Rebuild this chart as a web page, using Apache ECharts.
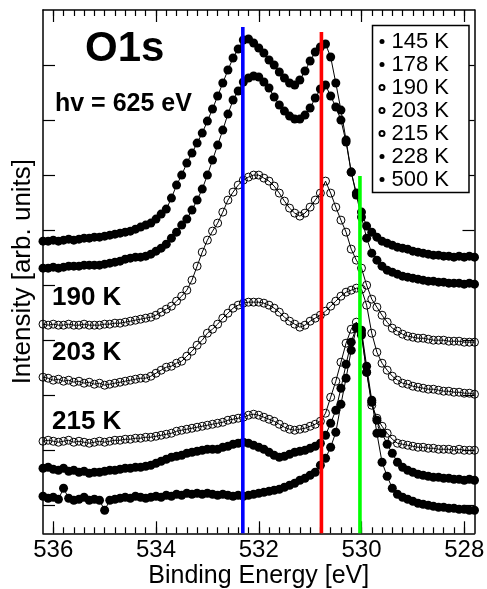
<!DOCTYPE html>
<html>
<head>
<meta charset="utf-8">
<script src="https://cdn.jsdelivr.net/npm/echarts@6/dist/echarts.min.js"></script>
<style>
html,body{margin:0;padding:0;background:#fff;}
#chart{width:487px;height:589px;}
</style>
</head>
<body>
<div id="chart"></div>
<script>
// Binding energy grid (eV)
const energy = [
536.2,536.1,536.0,535.9,535.8,535.7,535.6,535.5,535.4,535.3,
535.2,535.1,535.0,534.9,534.8,534.7,534.6,534.5,534.4,534.3,
534.2,534.1,534.0,533.9,533.8,533.7,533.6,533.5,533.4,533.3,
533.2,533.1,533.0,532.9,532.8,532.7,532.6,532.5,532.4,532.3,
532.2,532.1,532.0,531.9,531.8,531.7,531.6,531.5,531.4,531.3,
531.2,531.1,531.0,530.9,530.8,530.7,530.6,530.5,530.4,530.3,
530.2,530.1,530.0,529.9,529.8,529.7,529.6,529.5,529.4,529.3,
529.2,529.1,529.0,528.9,528.8,528.7,528.6,528.5,528.4,528.3,
528.2,528.1,528.0,527.9,527.8];

// Intensities (arb. units, curves offset vertically)
const i145 = [
319,319,320,319,320,321,320,321,322,322,
323,323,324,325,326,327,328,329,331,333,
335,337,341,346,351,362,375,385,397,407,
417,427,439,451,464,477,490,502,511,520,
521,517,512,507,500,495,488,482,477,475,
480,489,499,508,513,516,503,477,450,420,
388,367,348,334,328,323,319,317,315,313,
312,311,309,308,307,306,305,305,304,304,
303,304,303,304,303];
const i178 = [
292,292,293,292,293,294,294,294,295,295,
295,295,296,297,298,299,301,302,303,303,
304,306,309,312,316,322,328,335,341,350,
360,371,385,400,415,430,446,460,469,478,
482,484,483,478,472,463,455,449,444,441,
441,445,452,462,471,475,464,453,440,418,
388,365,343,322,307,300,294,290,288,286,
284,283,282,281,280,279,279,278,278,277,
277,277,276,277,276];
const i190 = [
236,235,236,235,235,236,235,235,236,235,
235,235,236,236,237,237,238,239,240,241,
242,243,245,248,251,254,259,264,270,280,
294,308,320,329,337,348,360,368,375,380,
383,385,385,382,379,374,367,359,352,347,
344,347,353,360,367,379,367,353,340,328,
311,300,292,275,261,253,245,238,232,229,
226,224,223,222,222,221,220,220,220,219,
219,219,218,218,218];
const i203 = [
183,182,180,181,179,180,178,179,177,178,
176,177,175,176,177,178,179,180,181,182,
182,184,187,190,193,194,197,199,204,209,
215,220,227,231,236,242,247,252,255,257,
258,258,258,257,255,252,248,243,239,236,
233,235,239,242,245,249,254,259,264,268,
270,272,271,255,227,208,197,190,184,180,
177,176,174,173,172,171,171,170,169,169,
168,168,167,167,166];
const i215 = [
119,120,119,118,119,120,118,119,118,117,
118,119,118,119,120,120,121,121,122,122,
123,123,124,125,126,127,129,130,131,132,
133,134,135,136,137,138,140,141,142,143,
145,146,145,143,141,139,136,133,131,130,
131,132,134,136,139,147,163,179,198,217,
231,238,227,188,155,142,134,127,121,117,
116,115,114,113,113,112,112,111,111,111,
110,111,110,110,110];
const i228 = [
92,93,91,90,92,89,90,88,89,87,
88,88,89,90,90,91,92,92,93,93,
94,95,97,99,101,103,104,105,107,108,
109,110,111,111,111,113,114,116,117,118,
117,115,113,111,108,105,103,104,106,108,
109,110,112,114,117,125,137,150,172,196,
218,233,225,188,158,140,127,116,107,98,
93,90,88,86,85,84,83,83,82,82,
81,81,80,81,80];
const i500 = [
64,62,63,61,72,62,60,61,63,60,
61,60,50,60,61,62,63,62,64,63,
62,63,64,63,65,64,66,65,67,66,
67,66,67,66,65,66,65,64,65,64,
65,66,67,68,69,70,71,73,75,77,
80,82,85,88,95,102,113,128,156,182,
210,232,230,194,160,127,98,84,72,66,
63,61,59,57,56,55,54,53,53,52,
52,51,51,50,50];

const seriesNames = ['145 K','178 K','190 K','203 K','215 K','228 K','500 K'];
const seriesValues = [i145, i178, i190, i203, i215, i228, i500];
const hollow = [false, false, true, true, true, false, false];

// Reference lines (eV) and their upper ends
const refLineE = [532.31, 530.78, 530.03];
const refLineTop = [533, 528, 384];
const refLineColors = ['#0000ff', '#ff0000', '#00ff00'];

// Axis range and ticks
const xMin = 527.8, xMax = 536.2;
const yMin = 27, yMax = 550;
const xMajorTicks = [528, 530, 532, 534, 536];
const yTicks = [55, 110, 165, 220, 275, 330, 385, 440, 495];
const xMinorTicks = [];
for (let k = 0; k <= 40; k++) xMinorTicks.push(+(528 + 0.2 * k).toFixed(1));

// Annotation texts
const annotations = [
  {text: 'O1s', x: 85, y: 49, size: 42},
  {text: 'hv = 625 eV', x: 55, y: 104, size: 25},
  {text: '190 K', x: 52, y: 298, size: 26},
  {text: '203 K', x: 52, y: 353, size: 26},
  {text: '215 K', x: 52, y: 422, size: 26}
];

const FONT = '"Liberation Sans", Arial, Helvetica, sans-serif';
const black = '#000';

const xBase = {type: 'value', min: xMin, max: xMax, inverse: true, splitLine: {show: false}, gridIndex: 0};
const yBase = {type: 'value', min: yMin, max: yMax, splitLine: {show: false}, gridIndex: 0};

const series = seriesValues.map((vals, si) => ({
  name: seriesNames[si],
  type: 'line',
  xAxisIndex: 0, yAxisIndex: 0,
  data: energy.map((e, i) => [e, vals[i]]),
  symbol: 'circle',
  symbolSize: hollow[si] ? 8 : 9,
  showSymbol: true,
  showAllSymbol: true,
  lineStyle: {color: black, width: 1},
  itemStyle: hollow[si]
    ? {color: 'rgba(255,255,255,0)', borderColor: black, borderWidth: 1}
    : {color: black, borderColor: black, borderWidth: 0},
  emphasis: {disabled: true},
  silent: true,
  z: 2
}));

refLineE.forEach((e, k) => {
  series.push({
    type: 'line',
    xAxisIndex: 0, yAxisIndex: 0,
    data: [[e, yMin], [e, refLineTop[k]]],
    symbol: 'none',
    lineStyle: {color: refLineColors[k], width: 3.6},
    silent: true,
    z: 10
  });
});

const chart = echarts.init(document.getElementById('chart'), null, {renderer: 'canvas'});
chart.setOption({
  animation: false,
  backgroundColor: '#fff',
  grid: {left: 43, right: 12.5, top: 10, bottom: 55.7, containLabel: false, outerBoundsMode: 'none'},
  xAxis: [
    Object.assign({}, xBase, {
      position: 'bottom',
      axisLine: {show: true, onZero: false, lineStyle: {color: black, width: 1.5}},
      axisTick: {show: true, inside: true, length: 12, customValues: xMajorTicks, lineStyle: {color: black, width: 1.2}},
      axisLabel: {show: true, customValues: xMajorTicks, color: black, fontSize: 24, fontFamily: FONT, margin: 5},
      name: 'Binding Energy [eV]', nameLocation: 'middle', nameGap: 30, nameMoveOverlap: false,
      nameTextStyle: {color: black, fontSize: 25, fontFamily: FONT}
    }),
    Object.assign({}, xBase, {
      position: 'bottom',
      axisLine: {show: false, onZero: false},
      axisTick: {show: true, inside: true, length: 6, customValues: xMinorTicks, lineStyle: {color: black, width: 1.2}},
      axisLabel: {show: false}
    }),
    Object.assign({}, xBase, {
      position: 'top',
      axisLine: {show: true, onZero: false, lineStyle: {color: black, width: 1.5}},
      axisTick: {show: true, inside: true, length: 12, customValues: xMajorTicks, lineStyle: {color: black, width: 1.2}},
      axisLabel: {show: false}
    }),
    Object.assign({}, xBase, {
      position: 'top',
      axisLine: {show: false, onZero: false},
      axisTick: {show: true, inside: true, length: 6, customValues: xMinorTicks, lineStyle: {color: black, width: 1.2}},
      axisLabel: {show: false}
    })
  ],
  yAxis: [
    Object.assign({}, yBase, {
      position: 'left',
      axisLine: {show: true, onZero: false, lineStyle: {color: black, width: 1.5}},
      axisTick: {show: true, inside: true, length: 12, customValues: yTicks, lineStyle: {color: black, width: 1.2}},
      axisLabel: {show: false},
      name: 'Intensity [arb. units]', nameLocation: 'middle', nameGap: 7, nameMoveOverlap: false,
      nameTextStyle: {color: black, fontSize: 26, fontFamily: FONT}
    }),
    Object.assign({}, yBase, {
      position: 'right',
      axisLine: {show: true, onZero: false, lineStyle: {color: black, width: 1.5}},
      axisTick: {show: true, inside: true, length: 12, customValues: yTicks, lineStyle: {color: black, width: 1.2}},
      axisLabel: {show: false}
    })
  ],
  legend: {
    data: seriesNames,
    orient: 'vertical',
    left: 372.5, top: 25.5,
    icon: 'circle',
    itemWidth: 5, itemHeight: 5, itemGap: 1,
    padding: [5, 20, 2, 6],
    borderColor: black, borderWidth: 1.5, borderRadius: 0,
    backgroundColor: '#fff',
    selectedMode: false,
    textStyle: {color: black, fontSize: 22, fontFamily: FONT, padding: [0, 0, 0, 2]}
  },
  graphic: annotations.map(a => ({
    type: 'text',
    x: a.x, y: a.y, z: 20,
    style: {text: a.text, fill: black, font: 'bold ' + a.size + 'px ' + FONT, verticalAlign: 'middle', align: 'left'}
  })),
  series: series
});
</script>
</body>
</html>
